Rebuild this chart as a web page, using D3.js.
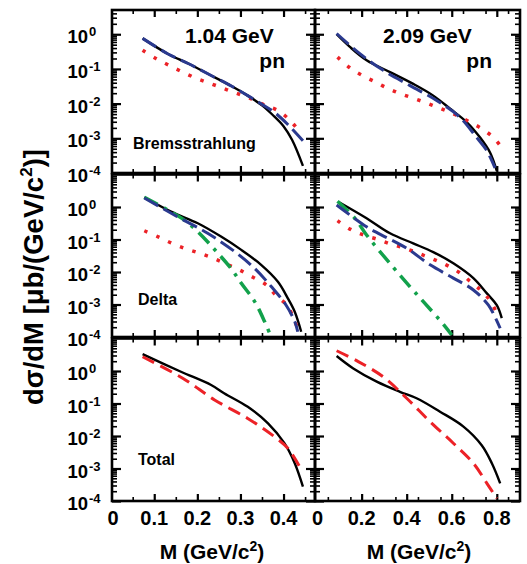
<!DOCTYPE html>
<html>
<head>
<meta charset="utf-8">
<script src="https://cdn.jsdelivr.net/npm/d3@7"></script>
<style>
	body { margin: 0; background: #fff; }
	svg { display: block; font-family: "Liberation Sans", Arial, Helvetica, sans-serif; font-weight: bold; }
</style>
</head>
<body>
<div id="chart"></div>
<script>
// tick labels
var massTicksLow = [0, 0.1, 0.2, 0.3, 0.4];
var massTicksHigh = [0, 0.2, 0.4, 0.6, 0.8];
var decades = [1, 1e-1, 1e-2, 1e-3, 1e-4];
var decadeExp = ["0", "-1", "-2", "-3", "-4"];

// 1.04 GeV, Bremsstrahlung
var bremsLowTotalM = [0.073, 0.131, 0.18, 0.232, 0.28, 0.317, 0.35, 0.375, 0.40, 0.42, 0.445];
var bremsLowTotal = [0.76, 0.275, 0.141, 0.0646, 0.0316, 0.017, 0.0089, 0.0047, 0.00224, 0.00089, 0.00016];
var bremsLowBlueM = [0.073, 0.131, 0.18, 0.232, 0.28, 0.317, 0.35, 0.379, 0.41, 0.445];
var bremsLowBlue = [0.76, 0.275, 0.141, 0.0646, 0.0316, 0.017, 0.0095, 0.0056, 0.0025, 0.00085];
var bremsLowRedM = [0.073, 0.104, 0.135, 0.166, 0.197, 0.228, 0.259, 0.29, 0.325, 0.356, 0.387, 0.414, 0.437];
var bremsLowRed = [0.347, 0.2, 0.126, 0.081, 0.054, 0.039, 0.028, 0.020, 0.0138, 0.0091, 0.0063, 0.0034, 0.00155];

// 2.09 GeV, Bremsstrahlung
var bremsHighTotalM = [0.089, 0.148, 0.222, 0.326, 0.429, 0.518, 0.593, 0.667, 0.726, 0.77, 0.80];
var bremsHighTotal = [1.0, 0.43, 0.178, 0.081, 0.037, 0.017, 0.0071, 0.0029, 0.00105, 0.00039, 0.000115];
var bremsHighBlueM = [0.089, 0.192, 0.296, 0.415, 0.533, 0.637, 0.711, 0.756, 0.792];
var bremsHighBlue = [1.05, 0.275, 0.091, 0.033, 0.0123, 0.004, 0.00105, 0.00044, 0.00014];
var bremsHighRedM = [0.093, 0.144, 0.197, 0.255, 0.316, 0.375, 0.437, 0.499, 0.56, 0.619, 0.678, 0.733, 0.785, 0.822];
var bremsHighRed = [0.219, 0.112, 0.068, 0.044, 0.0275, 0.019, 0.0138, 0.0098, 0.0068, 0.0047, 0.003, 0.0019, 0.00105, 0.00054];

// 1.04 GeV, Delta
var deltaLowTotalM = [0.077, 0.139, 0.201, 0.255, 0.302, 0.348, 0.387, 0.41, 0.426, 0.441];
var deltaLowTotal = [2.0, 0.72, 0.316, 0.123, 0.048, 0.0166, 0.005, 0.00155, 0.0006, 0.000145];
var deltaLowBlueM = [0.077, 0.154, 0.224, 0.286, 0.333, 0.372, 0.406, 0.426, 0.433];
var deltaLowBlue = [1.9, 0.5, 0.155, 0.043, 0.0129, 0.0035, 0.00095, 0.0003, 0.000145];
var deltaLowGreenM = [0.077, 0.131, 0.166, 0.201, 0.239, 0.278, 0.302, 0.333, 0.356, 0.37];
var deltaLowGreen = [2.0, 0.81, 0.43, 0.174, 0.051, 0.0129, 0.0045, 0.00123, 0.0003, 0.00011];
var deltaLowRedM = [0.077, 0.108, 0.139, 0.17, 0.202, 0.234, 0.266, 0.298, 0.329, 0.36, 0.381, 0.409, 0.423, 0.436];
var deltaLowRed = [0.186, 0.123, 0.079, 0.054, 0.039, 0.0275, 0.0178, 0.0115, 0.0069, 0.004, 0.002, 0.00091, 0.00038, 0.000145];

// 2.09 GeV, Delta
var deltaHighTotalM = [0.096, 0.222, 0.326, 0.429, 0.518, 0.607, 0.696, 0.756, 0.80, 0.822];
var deltaHighTotal = [1.45, 0.45, 0.155, 0.076, 0.041, 0.0186, 0.0065, 0.0022, 0.00095, 0.00038];
var deltaHighBlueM = [0.089, 0.222, 0.274, 0.4, 0.504, 0.607, 0.696, 0.763, 0.815];
var deltaHighBlue = [1.15, 0.245, 0.155, 0.054, 0.0166, 0.0065, 0.0028, 0.00095, 0.000186];
var deltaHighGreenM = [0.093, 0.17, 0.222, 0.338, 0.415, 0.474, 0.563, 0.60];
var deltaHighGreen = [1.5, 0.45, 0.138, 0.0145, 0.0035, 0.00123, 0.000245, 0.000115];
var deltaHighRedM = [0.093, 0.148, 0.207, 0.269, 0.33, 0.392, 0.455, 0.516, 0.575, 0.632, 0.684, 0.733, 0.773, 0.803];
var deltaHighRed = [0.38, 0.209, 0.138, 0.102, 0.072, 0.054, 0.037, 0.025, 0.0166, 0.0098, 0.005, 0.0026, 0.00123, 0.00048];

// Total
var totalLowDataM = [0.073, 0.162, 0.232, 0.263, 0.317, 0.364, 0.402, 0.426, 0.445];
var totalLowData = [3.3, 0.95, 0.37, 0.204, 0.079, 0.0245, 0.006, 0.00145, 0.000275];
var totalLowModelM = [0.073, 0.166, 0.24, 0.317, 0.379, 0.41, 0.437];
var totalLowModel = [2.75, 0.6, 0.129, 0.0347, 0.0095, 0.0042, 0.00115];
var totalHighDataM = [0.089, 0.163, 0.267, 0.37, 0.444, 0.548, 0.652, 0.733, 0.778, 0.815];
var totalHighData = [2.9, 1.2, 0.47, 0.229, 0.145, 0.056, 0.0195, 0.0052, 0.00145, 0.00035];
var totalHighModelM = [0.089, 0.185, 0.296, 0.4, 0.504, 0.607, 0.696, 0.756, 0.8];
var totalHighModel = [4.2, 1.95, 0.66, 0.145, 0.0275, 0.006, 0.00145, 0.00035, 0.00012];

var width = 527, height = 564;
var red = "#ec2227", blue = "#2b3a8f", green = "#12a14b";

var styles = {
	black: {color: "#000", width: 2.4, dash: null},
	blue: {color: blue, width: 3, dash: "16,6"},
	dots: {color: red, width: 3.5, dash: "3.5,9.5"},
	green: {color: green, width: 3.5, dash: "15,7,3.5,7"},
	redDash: {color: red, width: 3, dash: "13,7"}
};

var cols = [
	{x0: 112, x1: 315, domain: [0.002, 0.473], ticks: massTicksLow},
	{x0: 315, x1: 520, domain: [-0.007, 0.903], ticks: massTicksHigh}
];
var rows = [
	{y0: 10, y1: 173, top: 5},
	{y0: 174.5, y1: 337, top: 10},
	{y0: 338.5, y1: 501, top: 10}
];

function pairs(m, v) {
	return m.map((d, i) => [d, v[i]]);
}

var panels = [
	{row: 0, col: 0, label: "Bremsstrahlung", energy: "1.04 GeV", curves: [
		{data: pairs(bremsLowTotalM, bremsLowTotal), style: "black"},
		{data: pairs(bremsLowRedM, bremsLowRed), style: "dots"},
		{data: pairs(bremsLowBlueM, bremsLowBlue), style: "blue"}]},
	{row: 0, col: 1, energy: "2.09 GeV", curves: [
		{data: pairs(bremsHighTotalM, bremsHighTotal), style: "black"},
		{data: pairs(bremsHighRedM, bremsHighRed), style: "dots"},
		{data: pairs(bremsHighBlueM, bremsHighBlue), style: "blue"}]},
	{row: 1, col: 0, label: "Delta", curves: [
		{data: pairs(deltaLowTotalM, deltaLowTotal), style: "black"},
		{data: pairs(deltaLowRedM, deltaLowRed), style: "dots"},
		{data: pairs(deltaLowGreenM, deltaLowGreen), style: "green"},
		{data: pairs(deltaLowBlueM, deltaLowBlue), style: "blue"}]},
	{row: 1, col: 1, curves: [
		{data: pairs(deltaHighTotalM, deltaHighTotal), style: "black"},
		{data: pairs(deltaHighRedM, deltaHighRed), style: "dots"},
		{data: pairs(deltaHighGreenM, deltaHighGreen), style: "green"},
		{data: pairs(deltaHighBlueM, deltaHighBlue), style: "blue"}]},
	{row: 2, col: 0, label: "Total", curves: [
		{data: pairs(totalLowDataM, totalLowData), style: "black"},
		{data: pairs(totalLowModelM, totalLowModel), style: "redDash"}]},
	{row: 2, col: 1, curves: [
		{data: pairs(totalHighDataM, totalHighData), style: "black"},
		{data: pairs(totalHighModelM, totalHighModel), style: "redDash"}]}
];

var svg = d3.select("#chart").append("svg")
	.attr("width", width)
	.attr("height", height);

panels.forEach(function(p, idx) {
	var c = cols[p.col], r = rows[p.row];
	var x = d3.scaleLinear().domain(c.domain).range([c.x0, c.x1]);
	var y = d3.scaleLog().domain([1e-4, r.top]).range([r.y1, r.y0]);

	var clipId = "clip" + idx;
	svg.append("clipPath").attr("id", clipId)
		.append("rect")
		.attr("x", c.x0).attr("y", r.y0)
		.attr("width", c.x1 - c.x0).attr("height", r.y1 - r.y0);

	var g = svg.append("g");

	// minor / major ticks
	var yMinor = [];
	for (var e = -4; e <= 1; e++) {
		for (var k = 2; k <= 9; k++) {
			var v = k * Math.pow(10, e);
			if (v < r.top) yMinor.push(v);
		}
	}
	var xMajor = c.ticks.filter(t => t > 0);
	var xMinor = d3.range(0.05, c.domain[1], 0.1);

	function tickAxes(axisFn, scale, values, len, pos, horizontal, sw) {
		var a = g.append("g")
			.attr("transform", horizontal ? `translate(0,${pos})` : `translate(${pos},0)`)
			.call(axisFn(scale).tickValues(values).tickSize(-len).tickFormat(""));
		a.select(".domain").remove();
		a.selectAll("line").attr("stroke", "#000").attr("stroke-width", sw);
	}
	tickAxes(d3.axisLeft, y, decades, 9, c.x0, false, 2.2);
	tickAxes(d3.axisLeft, y, yMinor, 5, c.x0, false, 1.6);
	tickAxes(d3.axisRight, y, decades, 9, c.x1, false, 2.2);
	tickAxes(d3.axisRight, y, yMinor, 5, c.x1, false, 1.6);
	tickAxes(d3.axisBottom, x, xMajor, 7, r.y1, true, 2.2);
	tickAxes(d3.axisBottom, x, xMinor, 4, r.y1, true, 1.6);
	tickAxes(d3.axisTop, x, xMajor, 7, r.y0, true, 2.2);
	tickAxes(d3.axisTop, x, xMinor, 4, r.y0, true, 1.6);

	var line = d3.line()
		.x(d => x(d[0]))
		.y(d => y(d[1]))
		.curve(d3.curveCatmullRom.alpha(0.5));

	var curves = g.append("g").attr("clip-path", `url(#${clipId})`);
	p.curves.forEach(function(cv) {
		var s = styles[cv.style];
		curves.append("path")
			.attr("d", line(cv.data))
			.attr("fill", "none")
			.attr("stroke", s.color)
			.attr("stroke-width", s.width)
			.attr("stroke-dasharray", s.dash);
	});

	g.append("rect")
		.attr("x", c.x0).attr("y", r.y0)
		.attr("width", c.x1 - c.x0).attr("height", r.y1 - r.y0)
		.attr("fill", "none")
		.attr("stroke", "#000")
		.attr("stroke-width", 2.6);

	if (p.col === 0) {
		decades.forEach(function(d, i) {
			var ty = y(d);
			g.append("text")
				.attr("x", 88).attr("y", ty + 9)
				.attr("text-anchor", "end")
				.attr("font-size", 18.5)
				.text("10");
			g.append("text")
				.attr("x", 89).attr("y", ty + 2)
				.attr("font-size", 13)
				.text(decadeExp[i]);
		});
	}
	if (p.row === 2) {
		c.ticks.forEach(function(t) {
			g.append("text")
				.attr("x", t === 0 ? Math.max(x(0), c.x0) + 1 : x(t))
				.attr("y", 525)
				.attr("text-anchor", "middle")
				.attr("font-size", 20)
				.text(t === 0 ? "0" : String(t));
		});
		var title = g.append("text")
			.attr("x", p.col === 0 ? 212 : 419)
			.attr("y", 559)
			.attr("text-anchor", "middle")
			.attr("font-size", 21);
		title.append("tspan").text("M (GeV/c");
		title.append("tspan").attr("dy", -8).attr("font-size", 14).text("2");
		title.append("tspan").attr("dy", 8).text(")");
	}
	if (p.energy) {
		g.append("text")
			.attr("x", p.col === 0 ? 185 : 383).attr("y", 43)
			.attr("font-size", 21)
			.text(p.energy);
		g.append("text")
			.attr("x", p.col === 0 ? 285 : 492).attr("y", 68)
			.attr("text-anchor", "end")
			.attr("font-size", 21)
			.text("pn");
	}
	if (p.label) {
		var ly = {0: 148.5, 1: 304.5, 2: 464.5}[p.row];
		g.append("text")
			.attr("x", p.row === 0 ? 133 : 138).attr("y", ly)
			.attr("font-size", 16)
			.text(p.label);
	}
});

var ytitle = svg.append("text")
	.attr("transform", "translate(43,277) rotate(-90)")
	.attr("text-anchor", "middle")
	.attr("font-size", 27.5);
ytitle.append("tspan").text("d\u03c3/dM [\u03bcb/(GeV/c");
ytitle.append("tspan").attr("dy", -11).attr("font-size", 17).text("2");
ytitle.append("tspan").attr("dy", 11).text(")]");
</script>
</body>
</html>
